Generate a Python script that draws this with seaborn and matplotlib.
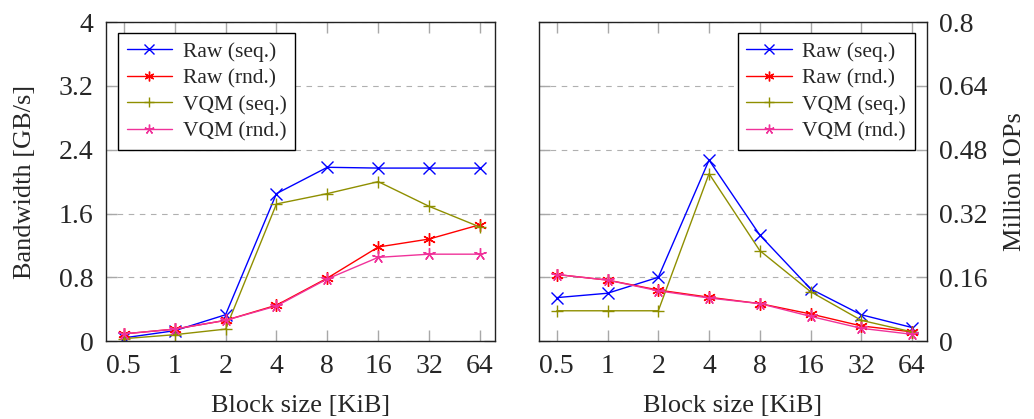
import numpy as np
import pandas as pd
import matplotlib
matplotlib.use("Agg")
import matplotlib.pyplot as plt
import seaborn as sns

# Block sizes (KiB)
block_sizes = [0.5, 1, 2, 4, 8, 16, 32, 64]
size_labels = ["0.5", "1", "2", "4", "8", "16", "32", "64"]
series_names = ["Raw (seq.)", "Raw (rnd.)", "VQM (seq.)", "VQM (rnd.)"]

# Bandwidth [GB/s]
bw_raw_seq = [0.04, 0.13, 0.33, 1.85, 2.18, 2.17, 2.17, 2.17]
bw_raw_rnd = [0.09, 0.15, 0.26, 0.45, 0.79, 1.18, 1.28, 1.46]
bw_vqm_seq = [0.03, 0.08, 0.15, 1.72, 1.85, 2.00, 1.69, 1.43]
bw_vqm_rnd = [0.09, 0.15, 0.26, 0.44, 0.78, 1.05, 1.09, 1.09]

# Million IOPs
iops_raw_seq = [0.109, 0.120, 0.160, 0.454, 0.266, 0.131, 0.066, 0.034]
iops_raw_rnd = [0.167, 0.153, 0.128, 0.110, 0.094, 0.068, 0.038, 0.023]
iops_vqm_seq = [0.076, 0.076, 0.076, 0.420, 0.227, 0.124, 0.052, 0.023]
iops_vqm_rnd = [0.167, 0.153, 0.126, 0.108, 0.094, 0.062, 0.032, 0.017]

colors = {"Raw (seq.)": "#0000ff", "Raw (rnd.)": "#ff0000",
          "VQM (seq.)": "#8f8f00", "VQM (rnd.)": "#f0329a"}
markers = {"Raw (seq.)": "x", "Raw (rnd.)": (6, 2, 0),
           "VQM (seq.)": "+", "VQM (rnd.)": (5, 2, 0)}


def long_df(cols):
    rows = []
    for name, vals in zip(series_names, cols):
        for s, v in zip(block_sizes, vals):
            rows.append({"size": s, "value": v, "series": name})
    return pd.DataFrame(rows)


bw = long_df([bw_raw_seq, bw_raw_rnd, bw_vqm_seq, bw_vqm_rnd])
iops = long_df([iops_raw_seq, iops_raw_rnd, iops_vqm_seq, iops_vqm_rnd])

sns.set_style("white")
plt.rcParams["font.family"] = ["Liberation Serif", "DejaVu Serif"]

fig = plt.figure(figsize=(10.34, 4.19), dpi=100)
ax1 = fig.add_axes([0.1025, 0.186, 0.376, 0.761])
ax2 = fig.add_axes([0.5213, 0.186, 0.375, 0.761])


def draw(ax, df, ymax, step, label, legend_x, legend_loc):
    for name in series_names:
        sub = df[df["series"] == name]
        sns.lineplot(data=sub, x="size", y="value", color=colors[name],
                     marker=markers[name], markeredgecolor=colors[name],
                     markersize=9, markeredgewidth=1.0, linewidth=1.0,
                     ax=ax, legend=False)
    ax.set_xscale("log", base=2)
    ax.set_xlim(0.5 * 2 ** -0.35, 64 * 2 ** 0.29)
    ax.set_xticks(block_sizes)
    ax.set_xticklabels(size_labels)
    ax.minorticks_off()
    ax.set_ylim(0, ymax)
    yt = np.arange(0, ymax + step / 2, step)
    ax.set_yticks(yt)
    ax.set_yticklabels([f"{t:g}" for t in yt])
    ax.yaxis.grid(True, color="#b0b0b0", linestyle=(0, (5, 5)), linewidth=0.8)
    ax.xaxis.grid(False)
    ax.tick_params(direction="in", length=8, width=1, color="#a8a8a8",
                   top=True, bottom=True, left=True, right=True,
                   labelsize=20, pad=9)
    for sp in ax.spines.values():
        sp.set_color("#222222")
        sp.set_linewidth(1.0)
    ax.set_xlabel("Block size [KiB]", fontsize=19, labelpad=12)
    ax.set_ylabel(label, fontsize=19)

    handles = [plt.Line2D([], [], color=colors[n], marker=markers[n],
                          markersize=7, linewidth=1.0) for n in series_names]
    leg = ax.legend(handles, series_names, loc=legend_loc,
                    bbox_to_anchor=(legend_x, 0.9655), borderaxespad=0,
                    fontsize=15.5, frameon=True, fancybox=False,
                    edgecolor="black", framealpha=1, handlelength=2.1,
                    labelspacing=0.3, handletextpad=0.5, borderpad=0.4)
    leg.get_frame().set_linewidth(1.0)


draw(ax1, bw, 4.0, 0.8, "Bandwidth [GB/s]", 0.031, "upper left")
draw(ax2, iops, 0.8, 0.16, "Million IOPs", 0.969, "upper right")
ax2.yaxis.set_label_position("right")
ax2.tick_params(labelleft=False, labelright=True)
ax1.yaxis.set_label_coords(-0.18, 0.5)
ax2.yaxis.set_label_coords(1.2, 0.5)

fig.savefig("out.png", dpi=100)
